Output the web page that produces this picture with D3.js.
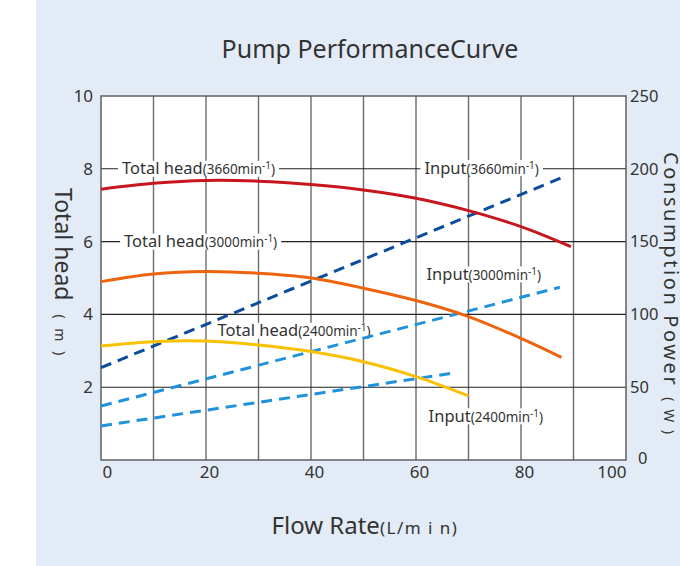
<!DOCTYPE html>
<html>
<head>
<meta charset="utf-8">
<script src="https://cdn.jsdelivr.net/npm/d3@7"></script>
<style>
  body { margin: 0; background: #fff; }
  svg { display: block; font-family: "Noto Sans", sans-serif; }
</style>
</head>
<body>
<svg width="680" height="566"></svg>
<script>
// flow rate ticks (L/min)
var flowTicks = [0, 20, 40, 60, 80, 100];
var headTicks = [2, 4, 6, 8, 10];
var powerTicks = [0, 50, 100, 150, 200, 250];

// total head curves (m)
var flow3660 = [0, 10, 20, 30, 40, 50, 60, 70, 80, 89.5];
var head3660 = [7.44, 7.6, 7.68, 7.66, 7.57, 7.42, 7.19, 6.85, 6.41, 5.86];
var flow3000 = [0, 10, 20, 30, 40, 50, 60, 70, 80, 87.7];
var head3000 = [4.9, 5.11, 5.18, 5.13, 5.0, 4.72, 4.38, 3.94, 3.34, 2.82];
var flow2400 = [0, 10, 20, 30, 40, 50, 60, 70];
var head2400 = [3.13, 3.25, 3.27, 3.16, 2.98, 2.7, 2.29, 1.76];

// input power (W), straight dashed lines
var pflow3660 = [0, 88.7];
var power3660 = [63.4, 195.3];
var pflow3000 = [0, 87.4];
var power3000 = [37.1, 118.6];
var pflow2400 = [0, 67.7];
var power2400 = [23.4, 60];

function drawChart() {
  'use strict';
  var svg = d3.select('svg');
  var w = 680, h = 566;
  var margin = {top: 96, left: 101, right: 54, bottom: 106};
  var width = w - margin.left - margin.right;
  var height = h - margin.top - margin.bottom;

  svg.append('rect')
    .attr('x', 36).attr('y', 0)
    .attr('width', w - 36).attr('height', h)
    .style('fill', '#e3ebf6');

  var x = d3.scaleLinear().domain([0, 100]).range([0, width]);
  var yL = d3.scaleLinear().domain([0, 10]).range([height, 0]);
  var yR = d3.scaleLinear().domain([0, 250]).range([height, 0]);

  var g = svg.append('g')
    .attr('transform', 'translate(' + [margin.left, margin.top] + ')');

  g.append('rect')
    .attr('width', width).attr('height', height)
    .style('fill', '#fff');

  // grid
  g.selectAll('.vgrid').data(d3.range(10, 100, 10)).enter()
    .append('line')
    .attr('class', 'vgrid')
    .attr('x1', x).attr('x2', x)
    .attr('y1', 0).attr('y2', height)
    .attr('stroke', '#6b6b6b')
    .attr('stroke-width', 1.4);

  g.selectAll('.hgrid').data([2, 4, 6, 8]).enter()
    .append('line')
    .attr('class', 'hgrid')
    .attr('x1', 0).attr('x2', width)
    .attr('y1', yL).attr('y2', yL)
    .attr('stroke', '#222')
    .attr('stroke-width', 1.1);

  g.append('rect')
    .attr('width', width).attr('height', height)
    .attr('fill', 'none')
    .attr('stroke', '#555')
    .attr('stroke-width', 1.4);

  // axes
  var axisL = g.append('g')
    .call(d3.axisLeft(yL).tickValues(headTicks).tickSize(0).tickPadding(8));
  var axisR = g.append('g')
    .attr('transform', 'translate(' + width + ',0)')
    .call(d3.axisRight(yR).tickValues(powerTicks).tickSize(0).tickPadding(4));
  var axisB = g.append('g')
    .attr('transform', 'translate(0,' + height + ')')
    .call(d3.axisBottom(x).tickValues(flowTicks).tickSize(0).tickPadding(6));

  [axisL, axisR, axisB].forEach(function (a) {
    a.select('.domain').remove();
    a.selectAll('text')
      .style('font-size', '17px')
      .style('fill', '#333')
      .style('font-family', '"Noto Sans", sans-serif');
  });
  axisR.selectAll('text').style('font-size', '16.5px');
  axisB.selectAll('text')
    .attr('text-anchor', function (d) { return d === 0 ? 'start' : (d === 100 ? 'end' : 'middle'); })
    .attr('dx', function (d) { return d === 0 ? 1 : (d === 100 ? 0 : 3); });
  axisR.selectAll('text')
    .attr('dx', function (d) { return d === 0 ? 8 : 0; })
    .attr('dy', function (d) { return d === 0 ? '0.2em' : '0.32em'; });

  // label boxes
  function addLabel(lx, ly, main, rpm) {
    var t = g.append('text')
      .attr('x', lx).attr('y', ly)
      .attr('dy', '0.35em')
      .style('fill', '#333');
    t.append('tspan').text(main).style('font-size', '16.5px');
    t.append('tspan').text('(' + rpm + 'min').style('font-size', '13.5px');
    t.append('tspan').text('-1').style('font-size', '10px').attr('dy', -5);
    t.append('tspan').text(')').style('font-size', '13.5px').attr('dy', 5);
    var bb = t.node().getBBox();
    g.insert('rect', function () { return t.node(); })
      .attr('x', bb.x - 4).attr('y', ly - 8)
      .attr('width', bb.width + 8).attr('height', 16)
      .style('fill', '#fff');
  }

  addLabel(x(4), yL(8), 'Total head', '3660');
  addLabel(x(4.4), yL(6), 'Total head', '3000');
  addLabel(x(22.2), yL(3.55), 'Total head', '2400');
  addLabel(x(61.6), yL(8.02), 'Input', '3660');
  addLabel(x(62), yL(5.1), 'Input', '3000');
  addLabel(x(62.4), yL(1.2), 'Input', '2400');

  // head curves
  function headLine(fx, fy, color) {
    var pts = fx.map(function (d, i) { return [d, fy[i]]; });
    g.append('path')
      .datum(pts)
      .attr('d', d3.line()
        .x(function (d) { return x(d[0]); })
        .y(function (d) { return yL(d[1]); })
        .curve(d3.curveCatmullRom))
      .attr('fill', 'none')
      .attr('stroke', color)
      .attr('stroke-width', 3);
  }
  function powerLine(fx, fy, color) {
    var pts = fx.map(function (d, i) { return [d, fy[i]]; });
    g.append('path')
      .datum(pts)
      .attr('d', d3.line()
        .x(function (d) { return x(d[0]); })
        .y(function (d) { return yR(d[1]); }))
      .attr('fill', 'none')
      .attr('stroke', color)
      .attr('stroke-width', 3)
      .attr('stroke-dasharray', '11,7');
  }

  powerLine(pflow2400, power2400, '#1f92dc');
  powerLine(pflow3000, power3000, '#1f92dc');
  powerLine(pflow3660, power3660, '#0b4c9c');
  headLine(flow2400, head2400, '#f9c100');
  headLine(flow3000, head3000, '#ec650e');
  headLine(flow3660, head3660, '#c8161f');

  // titles
  svg.append('text')
    .attr('x', 370).attr('y', 58)
    .attr('text-anchor', 'middle')
    .style('font-size', '25px')
    .style('fill', '#333')
    .text('Pump PerformanceCurve');

  var xl = svg.append('text')
    .attr('x', 365).attr('y', 534)
    .attr('text-anchor', 'middle')
    .style('fill', '#333');
  xl.append('tspan').text('Flow Rate').style('font-size', '24px');
  xl.append('tspan').text('(L/m i n)').style('font-size', '17px').style('letter-spacing', '1.5px');

  var yl = svg.append('text')
    .attr('transform', 'translate(55,188) rotate(90)')
    .style('fill', '#333');
  yl.append('tspan').text('Total head').style('font-size', '23px');
  yl.append('tspan').text('( m )').attr('dx', 14).style('font-size', '14px').style('letter-spacing', '3px');

  var yr = svg.append('text')
    .attr('transform', 'translate(664,152) rotate(90)')
    .style('fill', '#333');
  yr.append('tspan').text('Consumption Power').style('font-size', '20px').style('letter-spacing', '2.6px');
  yr.append('tspan').text('( W )').attr('dx', 10).style('font-size', '14px').style('letter-spacing', '2px');
}

drawChart();
</script>
</body>
</html>
